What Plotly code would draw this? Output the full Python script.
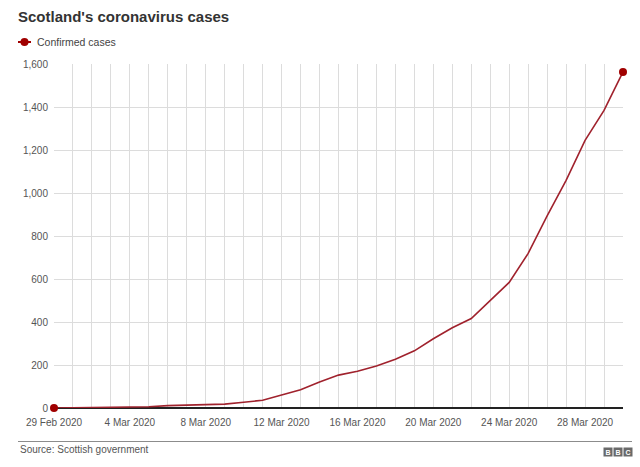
import plotly.graph_objects as go

# daily cumulative confirmed cases, Scotland
dates = [
    '2020-02-29', '2020-03-01', '2020-03-02', '2020-03-03', '2020-03-04', '2020-03-05',
    '2020-03-06', '2020-03-07', '2020-03-08', '2020-03-09', '2020-03-10', '2020-03-11',
    '2020-03-12', '2020-03-13', '2020-03-14', '2020-03-15', '2020-03-16', '2020-03-17',
    '2020-03-18', '2020-03-19', '2020-03-20', '2020-03-21', '2020-03-22', '2020-03-23',
    '2020-03-24', '2020-03-25', '2020-03-26', '2020-03-27', '2020-03-28', '2020-03-29',
    '2020-03-30',
]
cases = [
    0, 1, 1, 2, 3, 6,
    11, 14, 16, 18, 27, 36,
    60, 85, 121, 153, 171, 195,
    227, 266, 322, 373, 416, 499,
    584, 719, 894, 1059, 1245, 1384,
    1563,
]
series_name = 'Confirmed cases'
title_text = "Scotland's coronavirus cases"
source_text = 'Source: Scottish government'

LINE = '#a0222d'
DOT = '#a00000'
GRID = '#dcdcdc'
FONT = 'Liberation Sans, Arial, sans-serif'

# plot area in pixels (used to place notes outside it)
W, H = 640, 467
L, R, T, B = 54, 17, 64, 59
pw, ph = W - L - R, H - T - B


def px_x(x):
    return (x - L) / pw


def px_y(y):
    return (H - B - y) / ph


fig = go.Figure()
fig.add_trace(go.Scatter(x=dates, y=cases, mode='lines', name=series_name, showlegend=False,
                         line=dict(color=LINE, width=1.6), hoverinfo='skip'))
fig.add_trace(go.Scatter(x=[dates[0], dates[-1]], y=[cases[0], cases[-1]], mode='markers',
                         showlegend=False, marker=dict(color=DOT, size=8), cliponaxis=False))

fig.update_layout(
    width=W, height=H,
    margin=dict(l=L, r=R, t=T, b=B),
    plot_bgcolor='#ffffff', paper_bgcolor='#ffffff',
    font=dict(family=FONT, size=10, color='#555555'),
    title=dict(text='<b>%s</b>' % title_text, font=dict(size=15, color='#333333'),
               xref='container', yref='container', x=18 / W, xanchor='left',
               y=1 - 17 / H, yanchor='middle'),
    showlegend=False,
    xaxis=dict(type='date', range=[dates[0], dates[-1]], tick0=dates[0],
               dtick=4 * 86400000, tickformat='%-d %b %Y', showgrid=True,
               gridcolor=GRID, gridwidth=1, showline=False, zeroline=False,
               ticks='', ticklabelstandoff=7, tickfont=dict(size=10, color='#555555'),
               minor=dict(dtick=86400000, tick0=dates[0], showgrid=True,
                          gridcolor=GRID, gridwidth=1)),
    yaxis=dict(range=[0, 1600], dtick=200, tickformat=',', showgrid=True,
               gridcolor=GRID, gridwidth=1, zeroline=True, zerolinecolor='#222222',
               zerolinewidth=2, showline=False, ticks='', ticklabelstandoff=5,
               tickfont=dict(size=10, color='#555555')),
)

# legend key drawn by hand (short line with dot, as in the original)
fig.add_shape(type='line', xref='paper', yref='paper',
              x0=px_x(18), x1=px_x(31), y0=px_y(42), y1=px_y(42),
              line=dict(color=DOT, width=2))
fig.add_shape(type='circle', xref='paper', yref='paper',
              x0=px_x(20.5), x1=px_x(28.5), y0=px_y(46), y1=px_y(38),
              fillcolor=DOT, line=dict(width=0))
fig.add_annotation(text=series_name, xref='paper', yref='paper', x=px_x(35), y=px_y(42),
                   xanchor='left', yanchor='middle', showarrow=False,
                   font=dict(size=10.5, color='#444444'))

# footer rule, source and logo
fig.add_shape(type='line', xref='paper', yref='paper',
              x0=px_x(18), x1=px_x(632), y0=px_y(441.5), y1=px_y(441.5),
              line=dict(color='#8c8c8c', width=1))
fig.add_annotation(text=source_text, xref='paper', yref='paper', x=px_x(18), y=px_y(449),
                   xanchor='left', yanchor='middle', showarrow=False,
                   font=dict(size=10, color='#555555'))
for letter, cx in zip(['B', 'B', 'C'], [607.5, 617.5, 627.5]):
    fig.add_annotation(text='<b>%s</b>' % letter, xref='paper', yref='paper',
                       x=px_x(cx), y=px_y(451.5), xanchor='center', yanchor='middle',
                       showarrow=False, width=7, height=7, borderpad=0.5,
                       bgcolor='#6a6a6a', font=dict(size=7, color='#ffffff'))

fig.write_html('out.html', config={'displayModeBar': False},
               post_script="document.body.style.margin='0';")
